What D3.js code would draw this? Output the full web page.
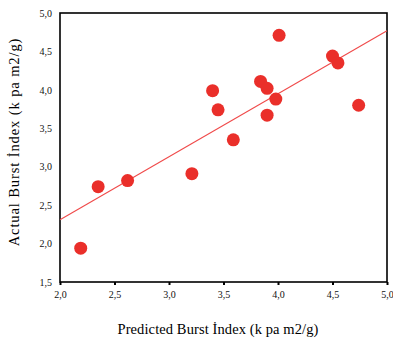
<!DOCTYPE html>
<html>
<head>
  <script src="https://cdn.jsdelivr.net/npm/d3@7"></script>
  <style>
    body { margin: 0; background: #fff; }
    text { font-family: 'Liberation Serif', 'DejaVu Serif', serif; }
  </style>
</head>
<body>
<svg id="svg" width="393" height="341"></svg>
<script>
  // predicted vs actual burst index
  var predicted = [2.19, 2.35, 2.62, 3.21, 4.01, 4.50, 4.55, 3.84, 3.90, 3.98, 3.40, 3.45, 3.90, 3.59, 4.74];
  var actual    = [1.94, 2.74, 2.82, 2.91, 4.71, 4.44, 4.35, 4.11, 4.02, 3.88, 3.99, 3.74, 3.67, 3.35, 3.80];
  var xTicks = [2.0, 2.5, 3.0, 3.5, 4.0, 4.5, 5.0];
  var yTicks = [1.5, 2.0, 2.5, 3.0, 3.5, 4.0, 4.5, 5.0];
  var fitIntercept = 2.31, fitSlope = 0.82; // fit line: y = a + b*(x - 2)

  var svg = d3.select('#svg');
  var m = { left: 60, top: 13, right: 387, bottom: 282 };

  var x = d3.scaleLinear().domain([2, 5]).range([m.left, m.right]);
  var y = d3.scaleLinear().domain([1.5, 5]).range([m.bottom, m.top]);

  var fmt = d => d.toFixed(1).replace('.', ',');

  // x axis
  svg.append('g')
    .attr('transform', 'translate(0,' + m.bottom + ')')
    .call(d3.axisBottom(x).tickValues(xTicks).tickSize(3).tickFormat(fmt))
    .call(g => g.select('.domain').remove())
    .call(g => g.selectAll('line').attr('stroke', '#000').attr('stroke-width', 2))
    .call(g => g.selectAll('text').attr('dy', '0.71em').attr('y', 9)
      .attr('font-size', 10).attr('fill', '#111'));

  // y axis
  svg.append('g')
    .attr('transform', 'translate(' + m.left + ',0)')
    .call(d3.axisLeft(y).tickValues(yTicks).tickSize(0).tickPadding(8).tickFormat(fmt))
    .call(g => g.select('.domain').remove())
    .call(g => g.selectAll('text').attr('font-size', 10).attr('fill', '#111'));

  // frame
  svg.append('rect')
    .attr('x', m.left).attr('y', m.top)
    .attr('width', m.right - m.left).attr('height', m.bottom - m.top)
    .attr('fill', 'none').attr('stroke', '#000').attr('stroke-width', 1.6);

  // fit line
  svg.append('line')
    .attr('x1', x(2)).attr('y1', y(fitIntercept))
    .attr('x2', x(5)).attr('y2', y(fitIntercept + fitSlope * 3))
    .attr('stroke', '#f04a4a').attr('stroke-width', 1.1);

  // points
  svg.selectAll('circle')
    .data(predicted)
    .enter()
    .append('circle')
    .attr('cx', d => x(d))
    .attr('cy', (d, i) => y(actual[i]))
    .attr('r', 6.5)
    .attr('fill', '#ea2f2a');

  // axis titles
  svg.append('text')
    .attr('x', 218).attr('y', 334)
    .attr('text-anchor', 'middle')
    .attr('font-size', 14.5)
    .attr('letter-spacing', 0.1)
    .text('Predicted Burst İndex (k pa m2/g)');

  svg.append('text')
    .attr('transform', 'translate(19,142) rotate(-90)')
    .attr('text-anchor', 'middle')
    .attr('font-size', 14.5)
    .attr('letter-spacing', 0.9)
    .text('Actual Burst İndex (k pa m2/g)');
</script>
</body>
</html>
